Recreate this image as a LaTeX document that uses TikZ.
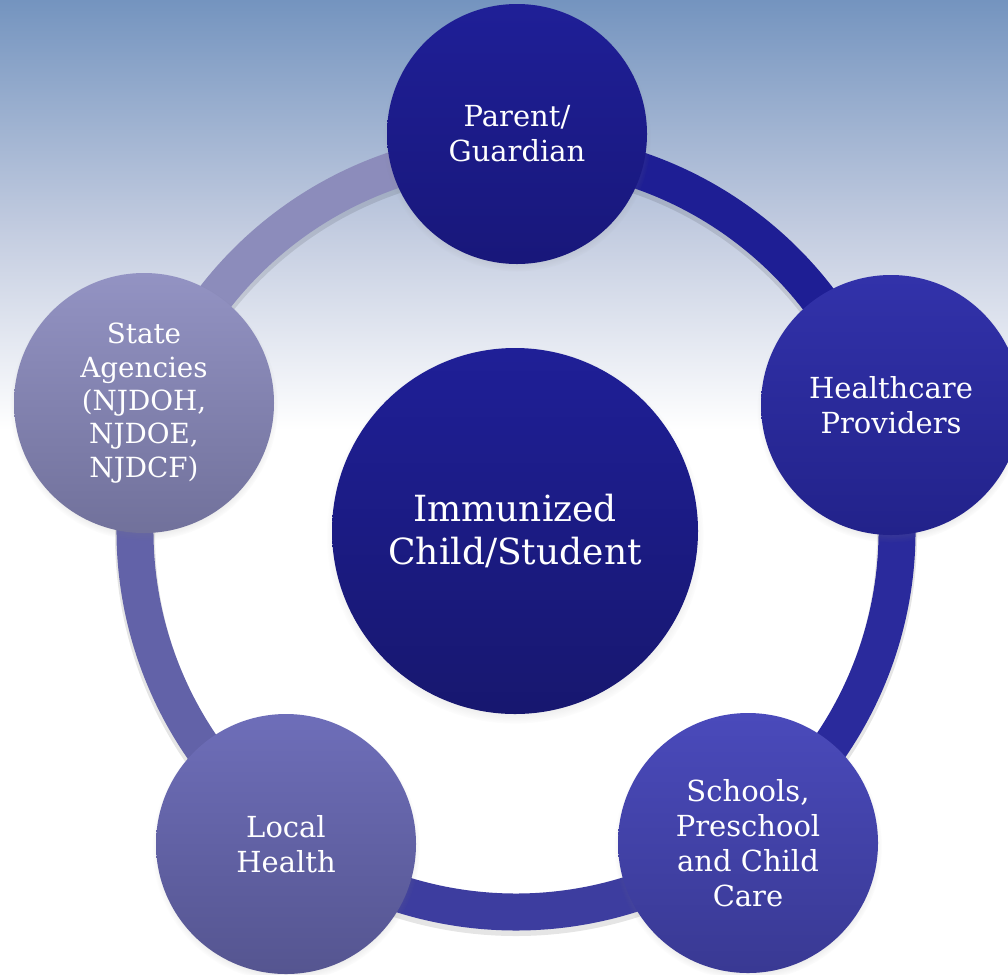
\documentclass[tikz,border=0pt]{standalone}
\usepackage{fontspec}
\setmainfont{DejaVu Serif}
\usetikzlibrary{shadows,fadings}

\definecolor{bgtop}{HTML}{7494BF}
\definecolor{bgmid}{HTML}{C3CCE0}
\definecolor{cParentT}{HTML}{1F1F97}
\definecolor{cParentB}{HTML}{18177A}
\definecolor{cHealthT}{HTML}{3232AA}
\definecolor{cHealthB}{HTML}{22228A}
\definecolor{cSchoolT}{HTML}{4A4ABB}
\definecolor{cSchoolB}{HTML}{393993}
\definecolor{cLocalT}{HTML}{6E6EB9}
\definecolor{cLocalB}{HTML}{555590}
\definecolor{cStateT}{HTML}{9393C3}
\definecolor{cStateB}{HTML}{71719B}
\definecolor{cCentreT}{HTML}{1F1F97}
\definecolor{cCentreB}{HTML}{17176F}
\definecolor{rA}{HTML}{1E1E94}
\definecolor{rB}{HTML}{2A2A9C}
\definecolor{rC}{HTML}{3D3D9F}
\definecolor{rD}{HTML}{6262A8}
\definecolor{rE}{HTML}{8C8CBB}

\tikzset{
  partner/.style={circle, minimum size=5.2cm, inner sep=0pt, text=white,
    align=center, font=\fontsize{16.5pt}{19.9pt}\selectfont,
    circular drop shadow={shadow xshift=0cm, shadow yshift=-0.07cm, shadow scale=1.03, opacity=0.35}},
  hub/.style={circle, minimum size=7.32cm, inner sep=0pt, text=white,
    align=center, font=\fontsize{20.5pt}{24pt}\selectfont,
    circular drop shadow={shadow xshift=0cm, shadow yshift=-0.08cm, shadow scale=1.03, opacity=0.35}},
  ringband/.style={line width=0.74cm},
}

\begin{document}
\begin{tikzpicture}
  % page frame and sky-like backdrop
  \useasboundingbox (0,0) rectangle (20.16,-19.48);
  \fill[white] (0,0) rectangle (20.16,-19.48);
  \fill[top color=bgmid, bottom color=white] (0,-4.6) rectangle (20.16,-8.6);
  \fill[top color=bgtop, bottom color=bgmid] (0,0) rectangle (20.16,-4.61);

  % centre of the ring
  \coordinate (rc) at (10.32,-10.62);

  % soft shadow under the ring
  \draw[line width=0.80cm, black, opacity=0.10] (10.32,-10.70) circle[radius=7.62];

  % ring, one arc per pair of neighbours
  \draw[ringband, rA] (rc) ++(90:7.62)   arc[start angle=90,   end angle=18,   radius=7.62];
  \draw[ringband, rB] (rc) ++(18:7.62)   arc[start angle=18,   end angle=-54,  radius=7.62];
  \draw[ringband, rC] (rc) ++(-54:7.62)  arc[start angle=-54,  end angle=-126, radius=7.62];
  \draw[ringband, rD] (rc) ++(-126:7.62) arc[start angle=-126, end angle=-198, radius=7.62];
  \draw[ringband, rE] (rc) ++(162:7.62)  arc[start angle=162,  end angle=90,   radius=7.62];

  % partner circles
  \node[partner, top color=cParentT, bottom color=cParentB] (parent) at (10.34,-2.68) {Parent/\\Guardian};
  \node[partner, top color=cHealthT, bottom color=cHealthB] (health) at (17.82,-8.10) {Healthcare\\Providers};
  \node[partner, top color=cSchoolT, bottom color=cSchoolB] (school) at (14.96,-16.86) {Schools,\\Preschool\\and Child\\Care};
  \node[partner, top color=cLocalT, bottom color=cLocalB] (local) at (5.72,-16.88) {Local\\Health};
  \node[partner, top color=cStateT, bottom color=cStateB,
        font=\fontsize{15.8pt}{19pt}\selectfont] (state) at (2.88,-8.06) {State\\Agencies\\(NJDOH,\\NJDOE,\\NJDCF)};

  % central circle
  \node[hub, top color=cCentreT, bottom color=cCentreB] (child) at (10.30,-10.62) {Immunized\\Child/Student};
\end{tikzpicture}
\end{document}
